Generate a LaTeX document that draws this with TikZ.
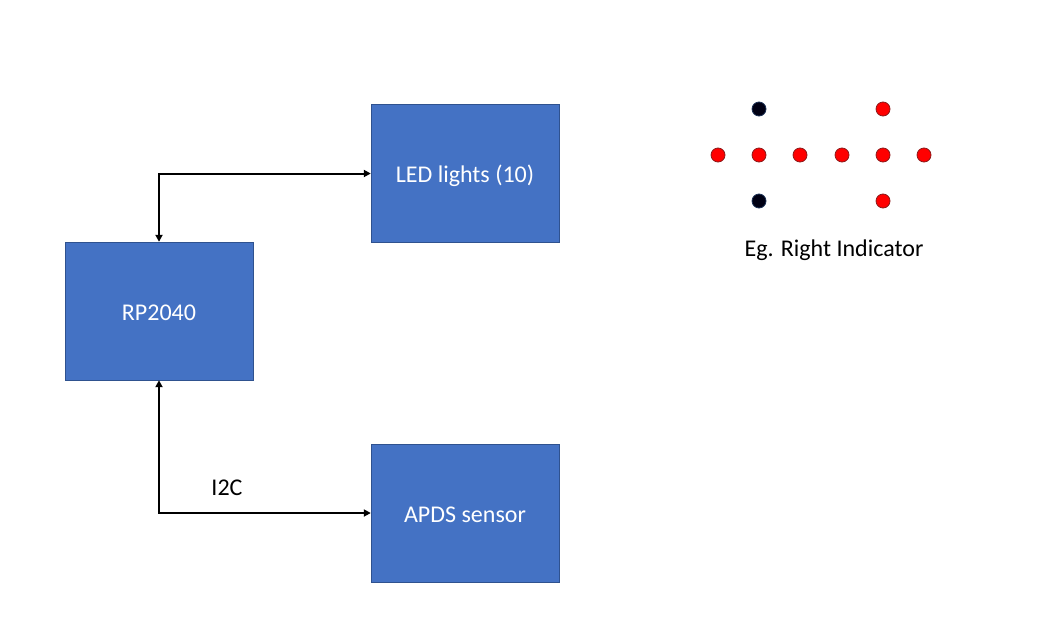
\documentclass[tikz,border=0pt]{standalone}
\usepackage{fontspec}
\setmainfont{Carlito}
\usetikzlibrary{arrows.meta}
\definecolor{boxblue}{HTML}{4472C4}
\definecolor{boxline}{HTML}{2F528F}
\definecolor{ledred}{HTML}{FF0000}
\definecolor{ledrim}{HTML}{8B1A1A}
\definecolor{ledoff}{HTML}{000014}
\tikzset{
  block/.style={draw=boxline,fill=boxblue,text=white,minimum width=188pt,minimum height=138pt,font=\fontsize{24}{28}\selectfont,inner sep=0pt,text height=20pt,text depth=2pt},
  link/.style={line width=2pt,{Triangle[length=7pt,width=7pt]}-{Triangle[length=7pt,width=7pt]}},
  label/.style={font=\fontsize{24}{28}\selectfont}
}
\begin{document}
\begin{tikzpicture}[x=1pt,y=-1pt]
\useasboundingbox (0,0) rectangle (1038,632);
\def\dr{7};
%blocks
\node[block] (rp) at (159,311) {RP2040};
\node[block] (led) at (465,173.5) {LED lights (10)};
\node[block] (apds) at (465,513) {APDS sensor};
%links
\draw[link] (rp.north) |- (led.west);
\draw[link] (rp.south) |- (apds.west);
\node[label] (i2c) at (227,488) {I2C};
%indicator pattern
\foreach\x in {718,759,800,842,883,924} {
  \draw[draw=ledrim,fill=ledred,line width=0.8pt] (\x,155) circle (\dr);
}
\foreach\y in {109,201} {
  \draw[draw=boxline!60!black,fill=ledoff,line width=0.8pt] (759,\y) circle (\dr);
  \draw[draw=ledrim,fill=ledred,line width=0.8pt] (883,\y) circle (\dr);
}
\node[label] (eg) at (834,250) {Eg. Right Indicator};
\end{tikzpicture}
\end{document}
